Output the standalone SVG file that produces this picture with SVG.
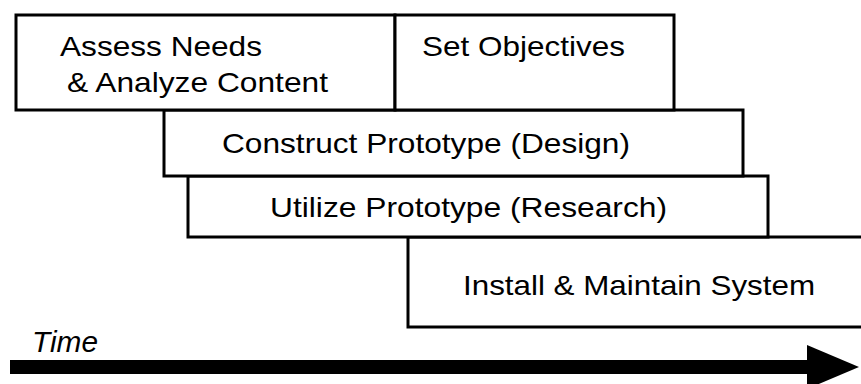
<svg xmlns="http://www.w3.org/2000/svg" width="861" height="384" viewBox="0 0 861 384">
  <style>
    .box { fill: #fff; stroke: #000; stroke-width: 3; }
    .lbl { font-family: "Liberation Sans", Arial, sans-serif; font-size: 28px; fill: #000; }
    .time { font-family: "Liberation Sans", Arial, sans-serif; font-size: 29px; font-style: italic; fill: #000; }
  </style>
  <rect width="861" height="384" fill="#fff"/>

  <!-- Phase boxes, staggered along the time axis -->
  <g id="install">
    <rect class="box" x="408" y="237" width="460" height="90"/>
    <text class="lbl" x="463" y="295" textLength="352" lengthAdjust="spacingAndGlyphs">Install &amp; Maintain System</text>
  </g>
  <g id="utilize">
    <rect class="box" x="188" y="176" width="580" height="61"/>
    <text class="lbl" x="270" y="217" textLength="397" lengthAdjust="spacingAndGlyphs">Utilize Prototype (Research)</text>
  </g>
  <g id="construct">
    <rect class="box" x="164" y="110" width="579" height="66"/>
    <text class="lbl" x="222" y="153" textLength="408" lengthAdjust="spacingAndGlyphs">Construct Prototype (Design)</text>
  </g>
  <g id="assess">
    <rect class="box" x="16" y="15" width="379" height="95"/>
    <text class="lbl" x="60" y="56" textLength="202" lengthAdjust="spacingAndGlyphs">Assess Needs</text>
    <text class="lbl" x="67" y="92" textLength="261" lengthAdjust="spacingAndGlyphs">&amp; Analyze Content</text>
  </g>
  <g id="objectives">
    <rect class="box" x="395" y="15" width="279" height="95"/>
    <text class="lbl" x="422" y="56" textLength="203" lengthAdjust="spacingAndGlyphs">Set Objectives</text>
  </g>

  <!-- Time axis -->
  <g id="connectors">
    <text class="time" x="32" y="352" textLength="66" lengthAdjust="spacingAndGlyphs">Time</text>
    <rect x="10" y="360" width="800" height="14" fill="#000"/>
    <polygon points="807,345 859,367 807,389" fill="#000"/>
  </g>
</svg>
